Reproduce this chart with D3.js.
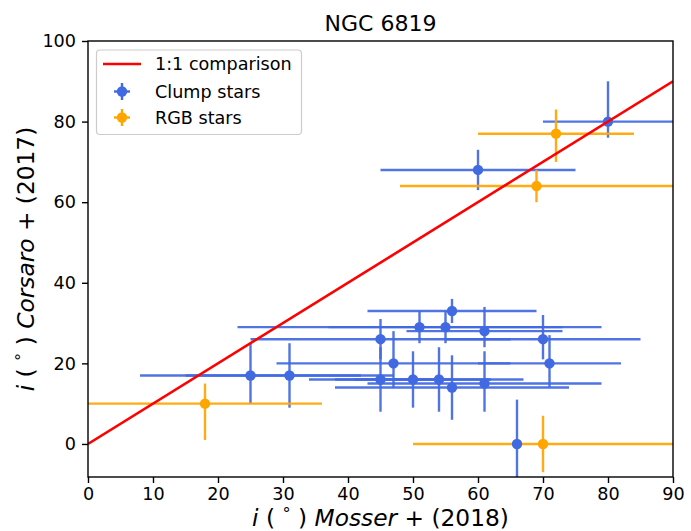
<!DOCTYPE html>
<html>
<head>
<meta charset="utf-8">
<script src="https://cdn.jsdelivr.net/npm/d3@7"></script>
<style>
  html, body { margin: 0; padding: 0; background: #fff; }
  svg { display: block; font-family: "DejaVu Sans", sans-serif; }
</style>
</head>
<body>
<svg id="chart" width="691" height="531"></svg>
<script>
// ---------- data ----------
const title = "NGC 6819";
const xTicks = [0, 10, 20, 30, 40, 50, 60, 70, 80, 90];
const yTicks = [0, 20, 40, 60, 80, 100];

// Clump stars
const clumpX      = [80, 60, 56, 51, 55, 61, 45, 70, 47, 71, 25, 31, 45, 50, 54, 56, 61, 66];
const clumpY      = [80, 68, 33, 29, 29, 28, 26, 26, 20, 20, 17, 17, 16, 16, 16, 14, 15, 0];
const clumpXerr   = [10, 15, 13, 28, 18, 12, 20, 15, 18, 11, 17, 16, 11, 12, 13, 18, 18, 0];
const clumpYerrLo = [4, 5, 3, 4, 4, 4, 5, 5, 6, 6, 7, 8, 8, 7, 8, 8, 7, 11];
const clumpYerrHi = [10, 5, 3, 4, 4, 6, 5, 6, 8, 7, 8, 8, 8, 7, 8, 8, 8, 11];

// RGB stars
const rgbX      = [72, 69, 18, 70];
const rgbY      = [77, 64, 10, 0];
const rgbXerr   = [12, 21, 18, 20];
const rgbYerrLo = [7, 4, 9, 7];
const rgbYerrHi = [6, 4, 5, 7];

// 1:1 comparison line
const oneToOne = [0, 90];

const legendLabels = ["1:1 comparison", "Clump stars", "RGB stars"];

// ---------- layout ----------
const svg = d3.select("#chart");
const m = { left: 88, right: 673, top: 41, bottom: 477 };
const x = d3.scaleLinear().domain([0, 90]).range([m.left, m.right]);
const y = d3.scaleLinear().domain([-8.2, 100]).range([m.bottom, m.top]);

const BLUE = "#4169e1", ORANGE = "#ffa500", RED = "#ff0000";
const FS = 17.6;

svg.append("defs").append("clipPath").attr("id", "clip")
  .append("rect").attr("x", m.left).attr("y", m.top)
  .attr("width", m.right - m.left).attr("height", m.bottom - m.top);

function series(xs, ys, xe, yl, yh) {
  return xs.map((v, i) => ({ x: v, y: ys[i], xe: xe[i], yl: yl[i], yh: yh[i] }));
}
const clump = series(clumpX, clumpY, clumpXerr, clumpYerrLo, clumpYerrHi);
const rgb = series(rgbX, rgbY, rgbXerr, rgbYerrLo, rgbYerrHi);

const plot = svg.append("g").attr("clip-path", "url(#clip)");

function drawBars(data, color) {
  const g = plot.append("g").attr("stroke", color).attr("stroke-width", 2.4).attr("stroke-opacity", 0.92);
  g.selectAll("line.h").data(data.filter(d => d.xe > 0)).join("line").attr("class", "h")
    .attr("x1", d => x(d.x - d.xe)).attr("x2", d => x(d.x + d.xe))
    .attr("y1", d => y(d.y)).attr("y2", d => y(d.y));
  g.selectAll("line.v").data(data).join("line").attr("class", "v")
    .attr("x1", d => x(d.x)).attr("x2", d => x(d.x))
    .attr("y1", d => y(d.y - d.yl)).attr("y2", d => y(d.y + d.yh));
}
function drawMarkers(data, color) {
  plot.append("g").selectAll("circle").data(data).join("circle")
    .attr("cx", d => x(d.x)).attr("cy", d => y(d.y)).attr("r", 5.2).attr("fill", color);
}
drawBars(clump, BLUE);
drawBars(rgb, ORANGE);
drawMarkers(clump, BLUE);
drawMarkers(rgb, ORANGE);

plot.append("path")
  .datum(oneToOne)
  .attr("d", d3.line().x(d => x(d)).y(d => y(d)))
  .attr("stroke", RED).attr("stroke-width", 2.6).attr("fill", "none");

// ---------- axes ----------
const xAxis = svg.append("g").attr("transform", `translate(0,${m.bottom})`)
  .call(d3.axisBottom(x).tickValues(xTicks).tickSize(6).tickPadding(5).tickSizeOuter(0));
const yAxis = svg.append("g").attr("transform", `translate(${m.left},0)`)
  .call(d3.axisLeft(y).tickValues(yTicks).tickSize(6).tickPadding(6).tickSizeOuter(0));
[xAxis, yAxis].forEach(a => {
  a.select(".domain").remove();
  a.selectAll(".tick line").attr("stroke", "#000").attr("stroke-width", 1.4);
  a.selectAll(".tick text").attr("fill", "#000").style("font-size", FS + "px")
    .style("font-family", "DejaVu Sans");
});

// frame
svg.append("rect").attr("x", m.left).attr("y", m.top)
  .attr("width", m.right - m.left).attr("height", m.bottom - m.top)
  .attr("fill", "none").attr("stroke", "#000").attr("stroke-width", 1.4);

// title
svg.append("text").attr("x", (m.left + m.right) / 2).attr("y", 30.5)
  .attr("text-anchor", "middle").style("font-size", "22px").text(title);

// axis labels (mathtext style)
function mathLabel(sel, italicName, year) {
  sel.append("tspan").attr("font-style", "italic").text("i");
  sel.append("tspan").text(" ( ");
  sel.append("tspan").attr("font-size", "0.7em").attr("dy", "-0.45em").text("°");
  sel.append("tspan").attr("dy", "0.315em").text(" ) ");
  sel.append("tspan").attr("font-style", "italic").text(italicName);
  sel.append("tspan").text(" + (" + year + ")");
}
const xl = svg.append("text").attr("x", (m.left + m.right) / 2).attr("y", 526)
  .attr("text-anchor", "middle").style("font-size", "23.3px");
mathLabel(xl, "Mosser", "2018");
const yl = svg.append("text")
  .attr("transform", `translate(34,${(m.top + m.bottom) / 2}) rotate(-90)`)
  .attr("text-anchor", "middle").style("font-size", "23.3px");
mathLabel(yl, "Corsaro", "2017");

// ---------- legend ----------
const lg = svg.append("g");
lg.append("rect").attr("x", 96.5).attr("y", 50).attr("width", 205).attr("height", 84.5)
  .attr("rx", 3.5).attr("fill", "#fff").attr("fill-opacity", 0.8)
  .attr("stroke", "#cccccc").attr("stroke-width", 1.2);
const ly = [64, 91.5, 117.5];
const hx = 122;
lg.append("line").attr("x1", hx - 19).attr("x2", hx + 19).attr("y1", ly[0]).attr("y2", ly[0])
  .attr("stroke", RED).attr("stroke-width", 2.6);
[[BLUE, ly[1]], [ORANGE, ly[2]]].forEach(([c, yy]) => {
  lg.append("line").attr("x1", hx - 8).attr("x2", hx + 8).attr("y1", yy).attr("y2", yy)
    .attr("stroke", c).attr("stroke-width", 2.4);
  lg.append("line").attr("x1", hx).attr("x2", hx).attr("y1", yy - 8.5).attr("y2", yy + 8.5)
    .attr("stroke", c).attr("stroke-width", 2.4);
  lg.append("circle").attr("cx", hx).attr("cy", yy).attr("r", 5.2).attr("fill", c);
});
legendLabels.forEach((t, i) => {
  lg.append("text").attr("x", 155).attr("y", ly[i] + 6.3).style("font-size", FS + "px").text(t);
});
</script>
</body>
</html>
